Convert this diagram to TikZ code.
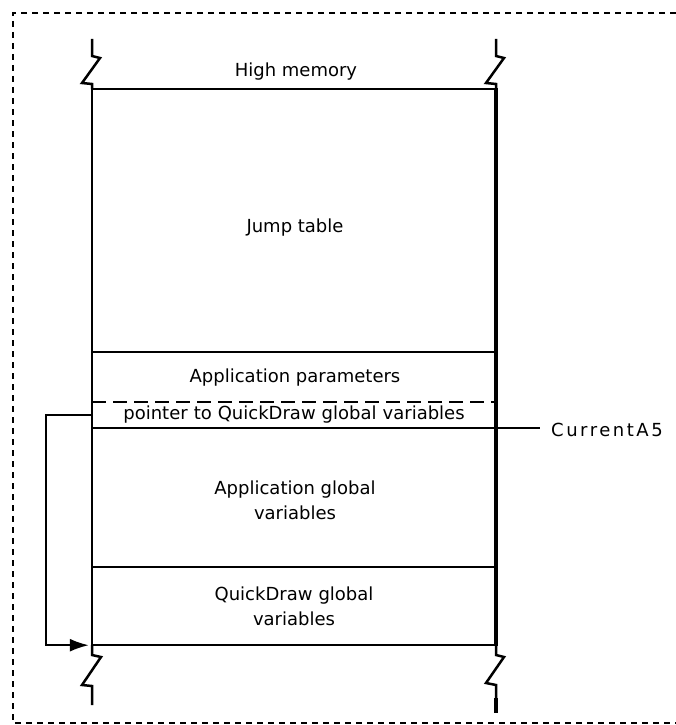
\documentclass[tikz,border=0pt]{standalone}
\usepackage{fontspec}
\setmainfont{DejaVu Sans}
\usetikzlibrary{arrows.meta}
\begin{document}
\begin{tikzpicture}[x=1pt,y=1pt,
  every node/.style={font=\fontsize{18}{25}\selectfont, inner sep=0pt, align=center},
  border/.style={line width=1.5pt, dash pattern=on 6pt off 5pt},
  rule/.style={line width=2pt},
  thickrule/.style={line width=4.5pt},
  dashrule/.style={line width=2pt, dash pattern=on 14pt off 7pt},
  breakline/.style={line width=2.5pt, line join=miter},
  region/.style={minimum width=404pt, text width=400pt},
  conn/.style={line width=2pt, -{Latex[length=19pt,width=13pt]}, shorten >=3pt}]
\useasboundingbox (0,0) rectangle (675,-725);
% frame
\draw[border] (676,-13) -- (13,-13) -- (13,-723) -- (676,-723);
% horizontal rules
\draw[rule] (92,-89) -- (496,-89);
\draw[rule] (92,-352) -- (496,-352);
\draw[dashrule] (92,-402) -- (496,-402);
\draw[rule] (92,-428) -- (496,-428);
\draw[rule] (92,-567) -- (496,-567);
\draw[rule] (92,-645) -- (496,-645);
% verticals
\draw[rule] (92,-88) -- (92,-646);
\draw[thickrule] (496,-88) -- (496,-646);
% breaks
\draw[breakline] (92,-39) -- (92,-56) -- (100,-58) -- (82,-83) -- (92,-84) -- (92,-89);
\draw[breakline] (496,-39) -- (496,-56) -- (504,-58) -- (486,-83) -- (496,-84) -- (496,-89);
\draw[breakline] (92,-645) -- (92,-655) -- (101,-657) -- (82,-685) -- (92,-686) -- (92,-705);
\draw[breakline] (496,-645) -- (496,-655) -- (504,-657) -- (486,-683) -- (496,-685) -- (496,-700);
\draw[thickrule] (496,-698) -- (496,-713);
% texts
\node (high) at (296,-72) {High memory};
\node (jump) at (295,-228) {Jump table};
\node (params) at (295,-378) {Application parameters};
\node[region, minimum height=26pt] (ptr) at (294,-415) {pointer to QuickDraw global variables};
\node (appglob) at (295,-500) {Application global\\variables};
\node[region, minimum height=78pt] (qd) at (294,-606) {QuickDraw global\\variables};
% CurrentA5
\coordinate (a5r) at (496,-428);
\node[anchor=west] (a5) at (551,-430) {\addfontfeatures{LetterSpace=14}CurrentA5};
\draw[line width=1.5pt] (a5r) -- (540,-428);
% connector
\draw[conn] (ptr.west) -- ++(-46,0) |- (qd.south west);
\end{tikzpicture}
\end{document}
